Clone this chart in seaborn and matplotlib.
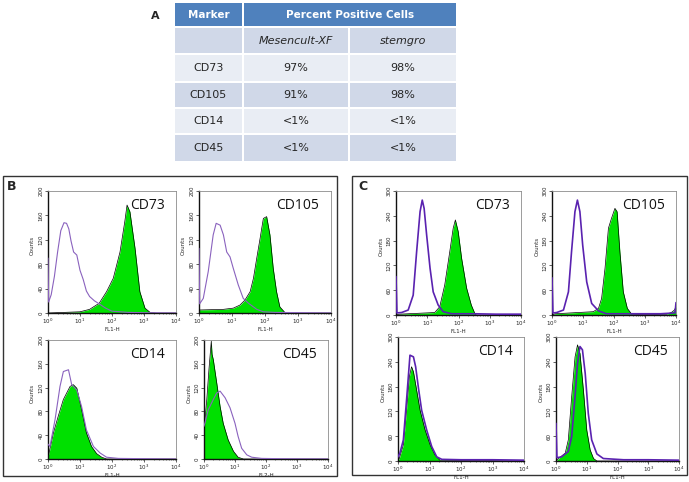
import numpy as np
import matplotlib
matplotlib.use("Agg")
import matplotlib.pyplot as plt
import seaborn as sns
from matplotlib.patches import Rectangle
from matplotlib.ticker import FixedLocator, LogLocator, NullFormatter

sns.set_style("white")
plt.rcParams['font.family'] = ['DejaVu Sans']

# ---------------- table data ----------------
markers = ["CD73", "CD105", "CD14", "CD45"]
media = ["Mesencult-XF", "stemgro"]
pct_mesencult = ["97%", "91%", "<1%", "<1%"]
pct_stemgro = ["98%", "98%", "<1%", "<1%"]

# ---------------- histogram data (x = log10 fluorescence, y = counts) ----------------
# Panel B (Mesencult-XF)
b_cd73_iso_x = [0, 0.02, 0.1, 0.2, 0.3, 0.4, 0.5, 0.58, 0.65, 0.72, 0.8, 0.9, 1.0, 1.1, 1.2, 1.3, 1.45, 1.6, 1.8, 2.0, 2.5, 3.0, 4.0]
b_cd73_iso_y = [90, 18, 30, 60, 100, 135, 148, 147, 138, 118, 100, 95, 70, 55, 36, 27, 20, 15, 8, 3, 1, 0.5, 0]
b_cd73_pos_x = [0, 0.5, 1.0, 1.3, 1.6, 1.83, 2.04, 2.25, 2.4, 2.47, 2.56, 2.72, 2.87, 3.03, 3.19, 3.4, 4.0]
b_cd73_pos_y = [0, 1, 2, 6, 16, 35, 57, 100, 150, 177, 166, 106, 35, 8, 1, 0, 0]

b_cd105_iso_x = [0, 0.02, 0.13, 0.28, 0.43, 0.52, 0.64, 0.74, 0.84, 0.94, 1.04, 1.19, 1.34, 1.5, 1.75, 1.95, 2.3, 4.0]
b_cd105_iso_y = [106, 15, 24, 68, 128, 147, 144, 128, 100, 92, 73, 46, 24, 16, 6, 2, 1, 0]
b_cd105_pos_x = [0, 0.05, 0.74, 1.04, 1.24, 1.39, 1.55, 1.65, 1.75, 1.85, 1.95, 2.05, 2.15, 2.25, 2.35, 2.45, 2.6, 3.0, 4.0]
b_cd105_pos_y = [5, 5, 6, 8, 13, 21, 35, 57, 90, 122, 155, 158, 128, 73, 35, 10, 1, 0, 0]

b_cd14_iso_x = [0, 0.06, 0.22, 0.375, 0.48, 0.64, 0.74, 0.9, 1.05, 1.2, 1.42, 1.63, 1.83, 2.2, 4.0]
b_cd14_iso_y = [25, 21, 66, 122, 147, 150, 125, 116, 88, 49, 21, 10, 3, 1, 0]
b_cd14_pos_x = [0, 0.02, 0.17, 0.32, 0.48, 0.69, 0.79, 0.9, 1.05, 1.2, 1.36, 1.52, 1.68, 1.83, 4.0]
b_cd14_pos_y = [25, 7, 44, 72, 100, 122, 125, 119, 83, 44, 21, 9, 3, 0, 0]

b_cd45_iso_x = [0, 0.14, 0.3, 0.41, 0.52, 0.68, 0.84, 1.0, 1.1, 1.215, 1.38, 1.54, 1.86, 2.5, 4.0]
b_cd45_iso_y = [55, 83, 100, 111, 114, 103, 86, 60, 38, 18, 7, 3, 1, 0.5, 0]
b_cd45_pos_x = [0, 0.09, 0.16, 0.235, 0.26, 0.3, 0.41, 0.52, 0.62, 0.78, 0.95, 1.1, 1.27, 4.0]
b_cd45_pos_y = [49, 100, 151, 198, 176, 167, 128, 88, 60, 32, 13, 3, 0, 0]

# Panel C (stemgro)
c_cd73_iso_x = [0, 0.03, 0.18, 0.39, 0.55, 0.66, 0.77, 0.84, 0.9, 0.98, 1.09, 1.19, 1.35, 1.51, 1.78, 2.5, 3.2, 4.0]
c_cd73_iso_y = [93, 5, 6, 12, 48, 153, 250, 278, 258, 194, 113, 56, 24, 8, 3, 3, 2, 2]
c_cd73_pos_x = [0, 0.1, 1.24, 1.4, 1.56, 1.72, 1.83, 1.9, 1.99, 2.1, 2.26, 2.41, 2.52, 2.57, 4.0]
c_cd73_pos_y = [0, 2, 6, 20, 73, 153, 210, 230, 202, 137, 65, 24, 4, 0, 0]

c_cd105_iso_x = [0, 0.03, 0.15, 0.37, 0.53, 0.63, 0.74, 0.82, 0.9, 0.99, 1.12, 1.28, 1.5, 1.76, 2.5, 3.5, 3.97, 4.0]
c_cd105_iso_y = [90, 5, 6, 12, 56, 153, 250, 278, 250, 169, 80, 28, 10, 3, 3, 3, 5, 30]
c_cd105_pos_x = [0, 0.1, 1.33, 1.5, 1.6, 1.71, 1.82, 1.92, 2.03, 2.1, 2.19, 2.3, 2.43, 2.57, 3.0, 3.7, 3.85, 3.95, 4.0]
c_cd105_pos_y = [0, 3, 8, 16, 40, 113, 210, 234, 258, 250, 153, 56, 16, 2, 1, 2, 6, 12, 20]

c_cd14_iso_x = [0, 0.06, 0.17, 0.28, 0.38, 0.49, 0.56, 0.65, 0.75, 0.91, 1.07, 1.23, 1.39, 2.0, 3.0, 4.0]
c_cd14_iso_y = [10, 19, 51, 156, 256, 252, 228, 176, 123, 75, 35, 10, 4, 3, 3, 2]
c_cd14_pos_x = [0, 0.04, 0.17, 0.28, 0.36, 0.43, 0.49, 0.59, 0.7, 0.86, 1.02, 1.17, 1.33, 4.0]
c_cd14_pos_y = [0, 6, 39, 131, 204, 228, 216, 172, 123, 75, 39, 15, 2, 0]

c_cd45_iso_x = [0, 0.03, 0.18, 0.4, 0.51, 0.62, 0.7, 0.78, 0.86, 0.95, 1.05, 1.16, 1.33, 1.54, 2.2, 3.0, 4.0]
c_cd45_iso_y = [91, 8, 10, 23, 59, 156, 236, 277, 269, 212, 115, 51, 17, 6, 3, 3, 2]
c_cd45_pos_x = [0, 0.08, 0.3, 0.4, 0.51, 0.62, 0.7, 0.78, 0.89, 1.0, 1.11, 1.22, 1.33, 4.0]
c_cd45_pos_y = [0, 6, 19, 51, 156, 252, 281, 260, 172, 75, 27, 6, 0, 0]

b_yticks = [0, 40, 80, 120, 160, 200]
c_yticks = [0, 60, 120, 180, 240, 300]
x_decades = [0, 1, 2, 3, 4]

W, H = 689, 482
fig = plt.figure(figsize=(W / 100, H / 100), dpi=100)

# overlay axes in pixel coordinates for the table, frames and panel letters
ov = fig.add_axes([0, 0, 1, 1])
ov.set_xlim(0, W)
ov.set_ylim(H, 0)
ov.axis('off')
ov.patch.set_alpha(0)

header_col = '#4F81BD'
dark_row = '#D0D8E8'
light_row = '#E9EDF4'
txt_col = '#262626'

col_edges = [(175, 242), (244, 348), (350, 456)]
row_edges = [(28, 53), (55, 81), (83, 107), (109, 133), (135, 161)]
# header
ov.add_patch(Rectangle((175, 3), 67, 23, color=header_col, lw=0))
ov.add_patch(Rectangle((244, 3), 212, 23, color=header_col, lw=0))
ov.text(208.5, 14.5, "Marker", color='white', fontsize=7.5, fontweight='bold', ha='center', va='center')
ov.text(350, 15, "Percent Positive Cells", color='white', fontsize=7.5, fontweight='bold', ha='center', va='center')
ov.text(155, 16, "A", fontsize=8, fontweight='bold', ha='center', va='center')

row_labels = [""] + markers
row_vals1 = [media[0]] + pct_mesencult
row_vals2 = [media[1]] + pct_stemgro
for i, (r0, r1) in enumerate(row_edges):
    fc = dark_row if i % 2 == 0 else light_row
    for (c0, c1) in col_edges:
        ov.add_patch(Rectangle((c0, r0), c1 - c0, r1 - r0, color=fc, lw=0))
    yc = (r0 + r1) / 2
    style = 'italic' if i == 0 else 'normal'
    ov.text(sum(col_edges[0]) / 2, yc, row_labels[i], fontsize=8, color=txt_col, ha='center', va='center')
    ov.text(sum(col_edges[1]) / 2, yc, row_vals1[i], fontsize=8, color=txt_col, ha='center', va='center', style=style)
    ov.text(sum(col_edges[2]) / 2, yc, row_vals2[i], fontsize=8, color=txt_col, ha='center', va='center', style=style)

# frames around panels B and C
ov.add_patch(Rectangle((3, 176), 334, 300, fill=False, ec='#333333', lw=1.0))
ov.add_patch(Rectangle((352, 176), 335, 299, fill=False, ec='#333333', lw=1.0))
ov.text(12, 186, "B", fontsize=9, fontweight='bold', ha='center', va='center')
ov.text(363, 187, "C", fontsize=9, fontweight='bold', ha='center', va='center')

green = '#00E000'
b_purple = '#8A62BE'
c_purple = '#5A22B0'

panels = [
    # (px box), iso x,y, pos x,y, yticks, label, xlabel, purple, lw
    ((48, 191, 176, 313), b_cd73_iso_x, b_cd73_iso_y, b_cd73_pos_x, b_cd73_pos_y, b_yticks, markers[0], "FL1-H", b_purple, 0.8),
    ((199, 191, 331, 313), b_cd105_iso_x, b_cd105_iso_y, b_cd105_pos_x, b_cd105_pos_y, b_yticks, markers[1], "FL1-H", b_purple, 0.8),
    ((48, 340, 176, 459), b_cd14_iso_x, b_cd14_iso_y, b_cd14_pos_x, b_cd14_pos_y, b_yticks, markers[2], "FL1-H", b_purple, 0.8),
    ((204, 340, 328, 459), b_cd45_iso_x, b_cd45_iso_y, b_cd45_pos_x, b_cd45_pos_y, b_yticks, markers[3], "FL2-H", b_purple, 0.8),
    ((396, 191, 521, 315), c_cd73_iso_x, c_cd73_iso_y, c_cd73_pos_x, c_cd73_pos_y, c_yticks, markers[0], "FL1-H", c_purple, 1.2),
    ((552, 191, 676, 315), c_cd105_iso_x, c_cd105_iso_y, c_cd105_pos_x, c_cd105_pos_y, c_yticks, markers[1], "FL1-H", c_purple, 1.2),
    ((398, 337, 524, 461), c_cd14_iso_x, c_cd14_iso_y, c_cd14_pos_x, c_cd14_pos_y, c_yticks, markers[2], "FL1-H", c_purple, 1.2),
    ((556, 337, 679, 461), c_cd45_iso_x, c_cd45_iso_y, c_cd45_pos_x, c_cd45_pos_y, c_yticks, markers[3], "FL1-H", c_purple, 1.2),
]

for (x0, y0, x1, y1), ix, iy, qx, qy, yt, lab, xl, pcol, plw in panels:
    ax = fig.add_axes([x0 / W, 1 - y1 / H, (x1 - x0) / W, (y1 - y0) / H])
    ax.set_xscale('log')
    qxx = 10 ** np.array(qx, dtype=float)
    ixx = 10 ** np.array(ix, dtype=float)
    ax.fill_between(qxx, qy, 0, color=green, lw=0, zorder=2)
    sns.lineplot(x=qxx, y=qy, ax=ax, color='black', lw=0.5, sort=False, estimator=None, zorder=3)
    sns.lineplot(x=ixx, y=iy, ax=ax, color=pcol, lw=plw, sort=False, estimator=None, zorder=4)
    ax.set_xlim(1, 1e4)
    ax.set_ylim(0, yt[-1])
    ax.xaxis.set_major_locator(FixedLocator([10 ** d for d in x_decades]))
    ax.set_xticklabels([f"$10^{d}$" for d in x_decades])
    ax.xaxis.set_minor_locator(LogLocator(base=10, subs=np.arange(2, 10)))
    ax.xaxis.set_minor_formatter(NullFormatter())
    ax.set_yticks(yt)
    ax.set_yticklabels([str(v) for v in yt])
    ax.tick_params(axis='both', which='major', labelsize=4, length=2, width=0.5, pad=1, direction='out',
                   bottom=True, left=True, colors='#222222')
    ax.tick_params(axis='x', which='minor', length=1, width=0.4, bottom=True, colors='#222222')
    ax.tick_params(axis='y', labelrotation=90)
    for t in ax.get_yticklabels():
        t.set_va('center')
    ax.set_xlabel(xl, fontsize=4, labelpad=0.5)
    ax.set_ylabel("Counts", fontsize=4, labelpad=1)
    ax.yaxis.set_label_coords(-0.1, 0.55)
    for s in ['left', 'bottom']:
        ax.spines[s].set_color('#111111')
        ax.spines[s].set_linewidth(1.0)
    for s in ['top', 'right']:
        ax.spines[s].set_color('#8C8C8C')
        ax.spines[s].set_linewidth(0.6)
    ax.text(0.91, 0.88, lab, transform=ax.transAxes, fontsize=10, ha='right', va='center',
            family='Open Sans', color='#111111')
    ax.grid(False)

fig.savefig("out.png", dpi=100)
